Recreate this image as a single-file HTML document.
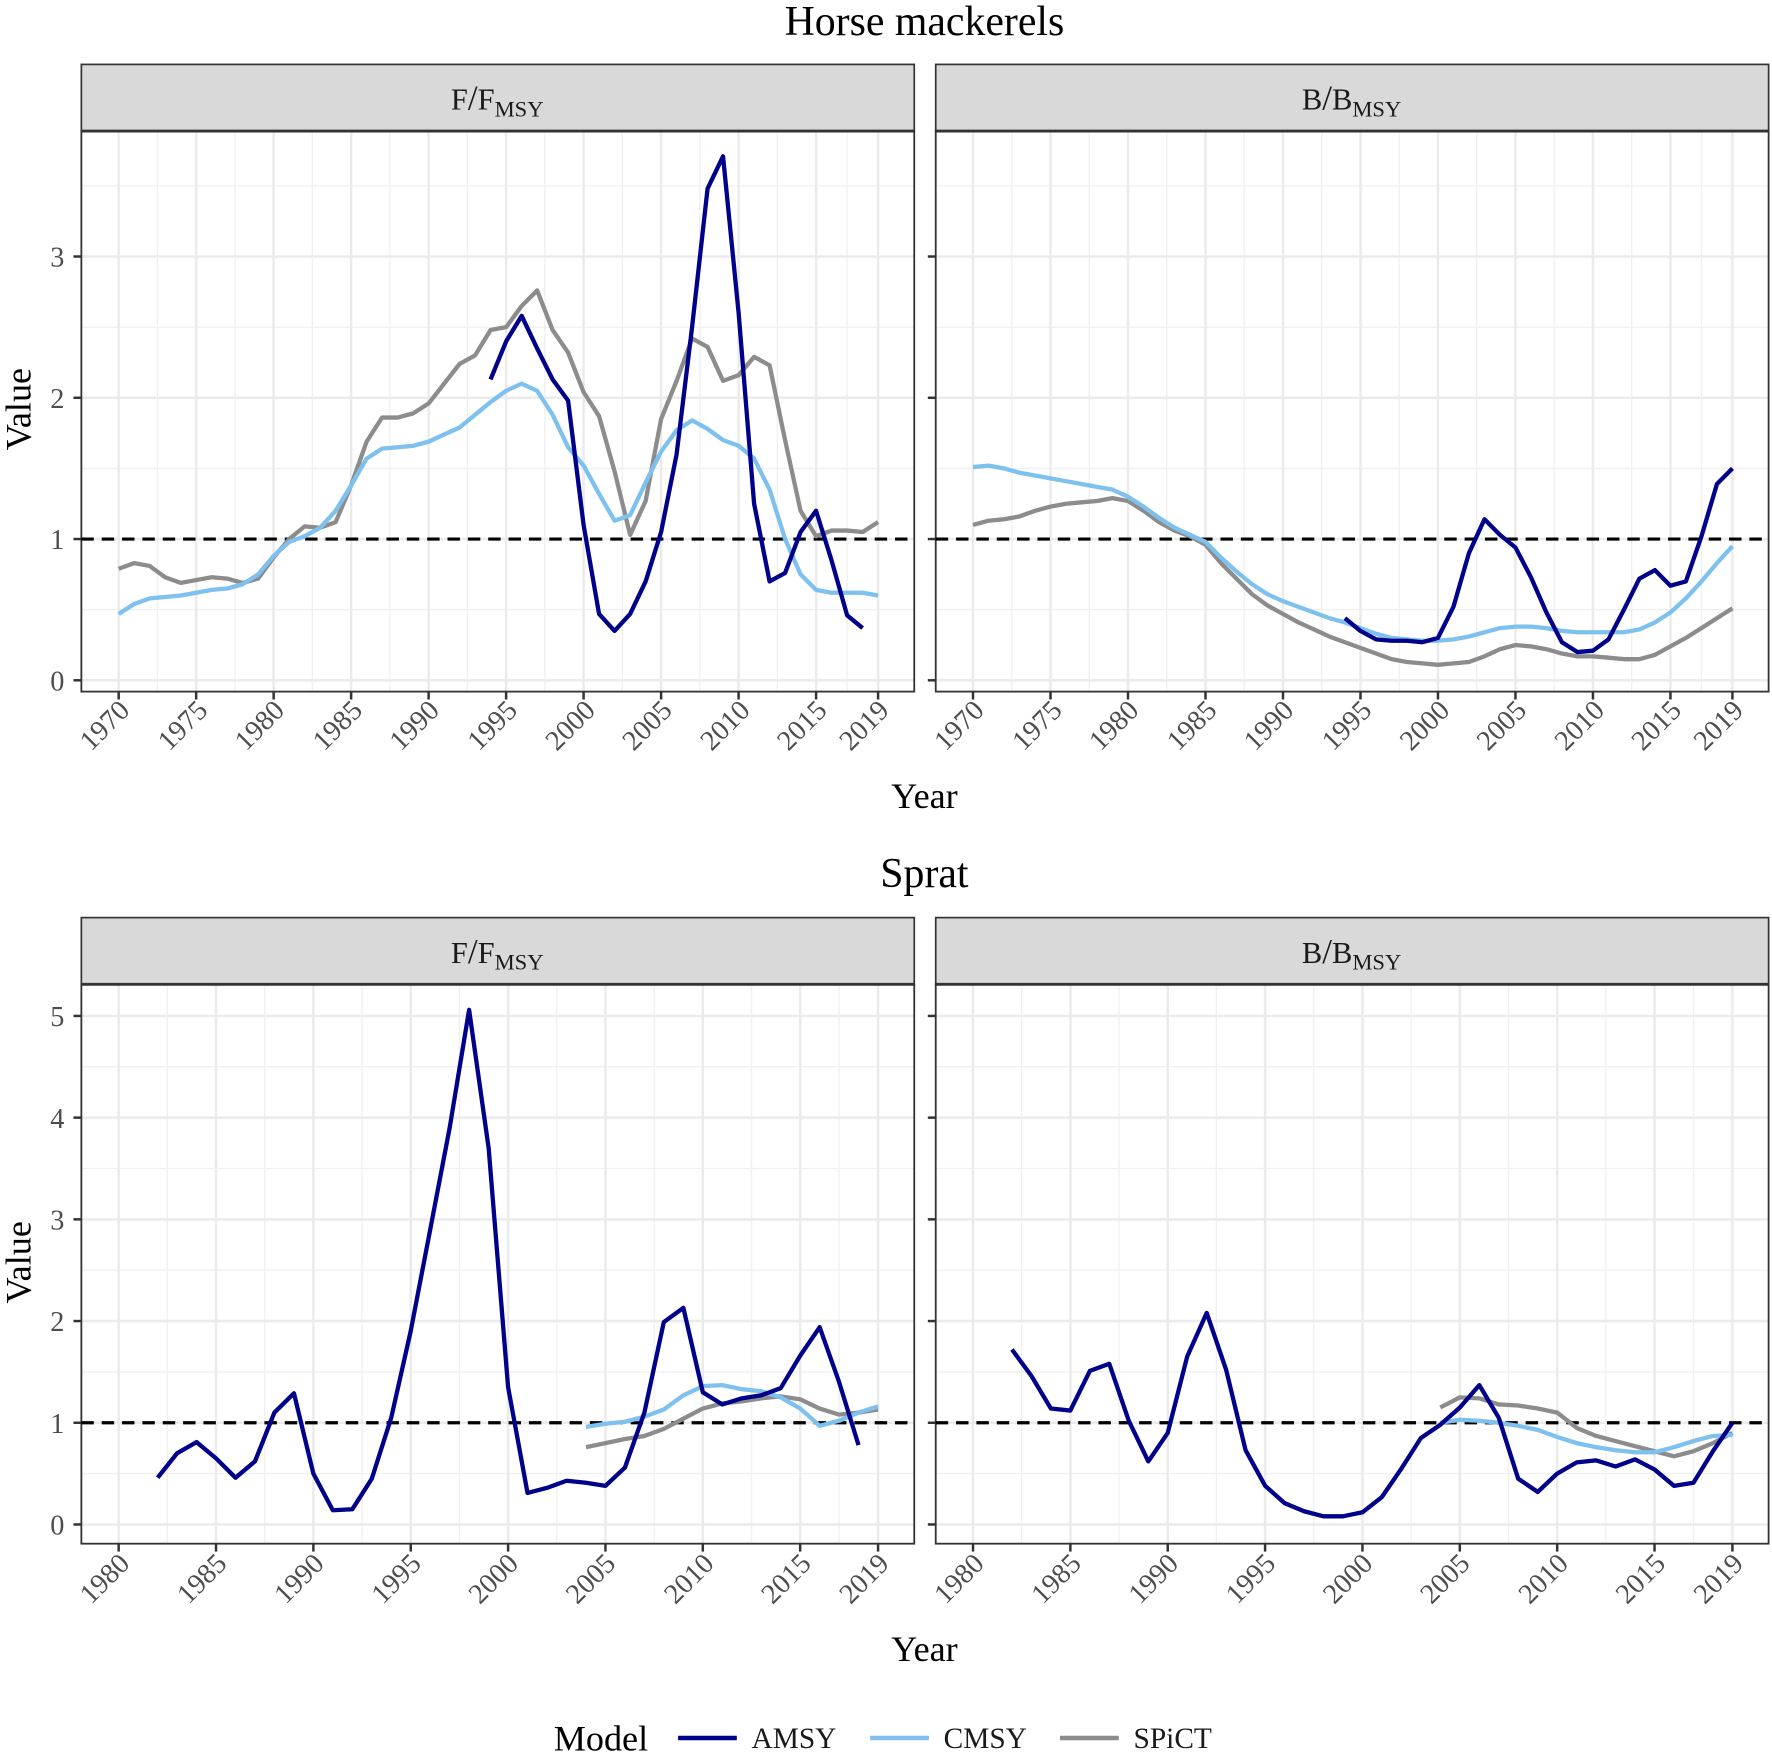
<!DOCTYPE html>
<html><head><meta charset="utf-8">
<style>
html,body{margin:0;padding:0;background:#fff;}
svg{display:block;font-family:"Liberation Serif",serif;}
.tk{font-size:25px;fill:#4d4d4d;}
.ax{font-size:32px;fill:#000;}
.tt{font-size:37px;fill:#000;}
.st{font-size:27px;fill:#1a1a1a;}
.sub{font-size:20px;}
</style></head><body>
<svg id="s" width="1772" height="1755" viewBox="0 0 1568 1553" preserveAspectRatio="none" xmlns="http://www.w3.org/2000/svg">
<rect width="1568" height="1553" fill="#fff"/>
<g id="grid"></g>
<g id="series"></g>

<text class="tt" x="818" y="31" text-anchor="middle">Horse mackerels</text>
<text class="tt" x="818" y="785" text-anchor="middle">Sprat</text>

<text class="st" x="440" y="97" text-anchor="middle">F<tspan font-size="31">/</tspan>F<tspan class="sub" dy="6">MSY</tspan></text>
<text class="st" x="1196" y="97" text-anchor="middle">B<tspan font-size="31">/</tspan>B<tspan class="sub" dy="6">MSY</tspan></text>
<text class="st" x="440" y="852" text-anchor="middle">F<tspan font-size="31">/</tspan>F<tspan class="sub" dy="6">MSY</tspan></text>
<text class="st" x="1196" y="852" text-anchor="middle">B<tspan font-size="31">/</tspan>B<tspan class="sub" dy="6">MSY</tspan></text>

<text class="ax" transform="translate(27,362) rotate(-90)" text-anchor="middle">Value</text>
<text class="ax" transform="translate(27,1117) rotate(-90)" text-anchor="middle">Value</text>
<text class="ax" x="818" y="715" text-anchor="middle">Year</text>
<text class="ax" x="818" y="1470" text-anchor="middle">Year</text>

<g class="tk" text-anchor="end">
<text x="57" y="611">0</text><text x="57" y="486">1</text><text x="57" y="361">2</text><text x="57" y="236">3</text>
<text x="57" y="1358">0</text><text x="57" y="1268">1</text><text x="57" y="1178">2</text><text x="57" y="1088">3</text><text x="57" y="998">4</text><text x="57" y="908">5</text>
</g>

<g class="tk" text-anchor="end">
<text transform="translate(116,630) rotate(-45)">1970</text>
<text transform="translate(185,630) rotate(-45)">1975</text>
<text transform="translate(253,630) rotate(-45)">1980</text>
<text transform="translate(322,630) rotate(-45)">1985</text>
<text transform="translate(390,630) rotate(-45)">1990</text>
<text transform="translate(459,630) rotate(-45)">1995</text>
<text transform="translate(528,630) rotate(-45)">2000</text>
<text transform="translate(596,630) rotate(-45)">2005</text>
<text transform="translate(665,630) rotate(-45)">2010</text>
<text transform="translate(733,630) rotate(-45)">2015</text>
<text transform="translate(788,630) rotate(-45)">2019</text>

<text transform="translate(872,630) rotate(-45)">1970</text>
<text transform="translate(941,630) rotate(-45)">1975</text>
<text transform="translate(1009,630) rotate(-45)">1980</text>
<text transform="translate(1078,630) rotate(-45)">1985</text>
<text transform="translate(1146,630) rotate(-45)">1990</text>
<text transform="translate(1215,630) rotate(-45)">1995</text>
<text transform="translate(1284,630) rotate(-45)">2000</text>
<text transform="translate(1352,630) rotate(-45)">2005</text>
<text transform="translate(1421,630) rotate(-45)">2010</text>
<text transform="translate(1489,630) rotate(-45)">2015</text>
<text transform="translate(1544,630) rotate(-45)">2019</text>

<text transform="translate(116,1385) rotate(-45)">1980</text>
<text transform="translate(202,1385) rotate(-45)">1985</text>
<text transform="translate(288,1385) rotate(-45)">1990</text>
<text transform="translate(374,1385) rotate(-45)">1995</text>
<text transform="translate(460,1385) rotate(-45)">2000</text>
<text transform="translate(546,1385) rotate(-45)">2005</text>
<text transform="translate(633,1385) rotate(-45)">2010</text>
<text transform="translate(719,1385) rotate(-45)">2015</text>
<text transform="translate(788,1385) rotate(-45)">2019</text>

<text transform="translate(872,1385) rotate(-45)">1980</text>
<text transform="translate(958,1385) rotate(-45)">1985</text>
<text transform="translate(1044,1385) rotate(-45)">1990</text>
<text transform="translate(1130,1385) rotate(-45)">1995</text>
<text transform="translate(1216,1385) rotate(-45)">2000</text>
<text transform="translate(1302,1385) rotate(-45)">2005</text>
<text transform="translate(1389,1385) rotate(-45)">2010</text>
<text transform="translate(1475,1385) rotate(-45)">2015</text>
<text transform="translate(1544,1385) rotate(-45)">2019</text>
</g>

<text class="ax" x="490" y="1549">Model</text>
<line x1="600" y1="1538" x2="652" y2="1538" stroke="#00008b" stroke-width="4"/>
<text x="665" y="1547" style="fill:#1a1a1a;font-size:26px">AMSY</text>
<line x1="770" y1="1538" x2="822" y2="1538" stroke="#7ec0ee" stroke-width="4"/>
<text x="835" y="1547" style="fill:#1a1a1a;font-size:26px">CMSY</text>
<line x1="938" y1="1538" x2="990" y2="1538" stroke="#8c8c8c" stroke-width="4"/>
<text x="1003" y="1547" style="fill:#1a1a1a;font-size:26px">SPiCT</text>
</svg>
<script>
var NS="http://www.w3.org/2000/svg";
function el(p,n,a){var e=document.createElementNS(NS,n);for(var k in a)e.setAttribute(k,a[k]);p.appendChild(e);return e;}
var G=document.getElementById('grid'),S=document.getElementById('series');
var panels=[
 {x0:72,x1:809,sy:57,y0:116,y1:612,ystart:1970,xa:105,xs:13.714,ya:602,ys:125,ymax:3,breaks:[1970,1975,1980,1985,1990,1995,2000,2005,2010,2015,2019]},
 {x0:828,x1:1565,sy:57,y0:116,y1:612,ystart:1970,xa:861,xs:13.714,ya:602,ys:125,ymax:3,breaks:[1970,1975,1980,1985,1990,1995,2000,2005,2010,2015,2019]},
 {x0:72,x1:809,sy:812,y0:871,y1:1366,ystart:1980,xa:105,xs:17.23,ya:1349,ys:90,ymax:5,breaks:[1980,1985,1990,1995,2000,2005,2010,2015,2019]},
 {x0:828,x1:1565,sy:812,y0:871,y1:1366,ystart:1980,xa:861,xs:17.23,ya:1349,ys:90,ymax:5,breaks:[1980,1985,1990,1995,2000,2005,2010,2015,2019]}
];
panels.forEach(function(p){
 el(G,'rect',{x:p.x0,y:p.sy,width:p.x1-p.x0,height:p.y0-p.sy,fill:'#d9d9d9',stroke:'#333','stroke-width':1.5});
 for(var i=0;i<p.breaks.length-1;i++){var m=(p.breaks[i]+p.breaks[i+1])/2;var x=p.xa+(m-p.ystart)*p.xs;el(G,'line',{x1:x,x2:x,y1:p.y0,y2:p.y1,stroke:'#f0f0f0','stroke-width':1.2});}
 for(var v=0.5;v<=p.ymax+0.5;v+=1){var y=p.ya-v*p.ys;if(y>p.y0)el(G,'line',{x1:p.x0,x2:p.x1,y1:y,y2:y,stroke:'#f0f0f0','stroke-width':1.2});}
 p.breaks.forEach(function(b){var x=p.xa+(b-p.ystart)*p.xs;el(G,'line',{x1:x,x2:x,y1:p.y0,y2:p.y1,stroke:'#ebebeb','stroke-width':2.2});
  el(G,'line',{x1:x,x2:x,y1:p.y1,y2:p.y1+7,stroke:'#333','stroke-width':2.2});});
 for(var v=0;v<=p.ymax;v++){var y=p.ya-v*p.ys;el(G,'line',{x1:p.x0,x2:p.x1,y1:y,y2:y,stroke:'#ebebeb','stroke-width':2.2});
  el(G,'line',{x1:p.x0-7,x2:p.x0,y1:y,y2:y,stroke:'#333','stroke-width':2.2});}
 el(G,'rect',{x:p.x0,y:p.y0,width:p.x1-p.x0,height:p.y1-p.y0,fill:'none',stroke:'#333','stroke-width':1.6});
 el(G,'line',{x1:p.x0,x2:p.x1,y1:p.y0,y2:p.y0,stroke:'#333','stroke-width':2.5});
 var y1=p.ya-p.ys;el(S,'line',{x1:p.x0,x2:p.x1,y1:y1,y2:y1,stroke:'#000','stroke-width':2.8,'stroke-dasharray':'11,7'});
});
function line(pi,start,vals,col){var p=panels[pi];var pts=vals.map(function(v,i){return (p.xa+(start+i-p.ystart)*p.xs).toFixed(1)+','+(p.ya-v*p.ys).toFixed(1);}).join(' ');
 el(S,'polyline',{points:pts,fill:'none',stroke:col,'stroke-width':3.8,'stroke-linejoin':'round'});}
var A='#00008b',C='#7ec0ee',P='#8c8c8c';
line(0,1970,[.79,.83,.81,.73,.69,.71,.73,.72,.69,.72,.87,1.0,1.09,1.08,1.12,1.38,1.69,1.86,1.86,1.89,1.96,2.1,2.24,2.3,2.48,2.5,2.65,2.76,2.48,2.32,2.04,1.87,1.48,1.03,1.27,1.85,2.12,2.42,2.36,2.12,2.16,2.29,2.23,1.7,1.2,1.02,1.06,1.06,1.05,1.12],P);
line(0,1970,[.47,.54,.58,.59,.6,.62,.64,.65,.68,.75,.88,.98,1.02,1.08,1.2,1.38,1.57,1.64,1.65,1.66,1.69,1.74,1.79,1.88,1.97,2.05,2.1,2.05,1.88,1.65,1.52,1.32,1.13,1.17,1.4,1.62,1.77,1.84,1.78,1.7,1.66,1.57,1.35,1.0,.75,.64,.62,.62,.62,.6],C);
line(0,1994,[2.13,2.4,2.58,2.35,2.13,1.98,1.1,.47,.35,.47,.7,1.05,1.6,2.5,3.48,3.71,2.6,1.25,.7,.76,1.05,1.2,.85,.46,.37],A);
line(1,1970,[1.1,1.13,1.14,1.16,1.2,1.23,1.25,1.26,1.27,1.29,1.27,1.2,1.12,1.06,1.02,.96,.83,.72,.61,.53,.47,.41,.36,.31,.27,.23,.19,.15,.13,.12,.11,.12,.13,.17,.22,.25,.24,.22,.19,.17,.17,.16,.15,.15,.18,.24,.3,.37,.44,.51],P);
line(1,1970,[1.51,1.52,1.5,1.47,1.45,1.43,1.41,1.39,1.37,1.35,1.3,1.23,1.15,1.08,1.03,.98,.87,.77,.68,.61,.56,.52,.48,.44,.41,.37,.33,.3,.29,.28,.28,.29,.31,.34,.37,.38,.38,.37,.35,.34,.34,.34,.34,.36,.41,.48,.58,.7,.83,.95],C);
line(1,1994,[.44,.35,.29,.28,.28,.27,.3,.52,.9,1.14,1.03,.94,.73,.48,.27,.2,.21,.29,.5,.72,.78,.67,.7,1.02,1.39,1.5],A);
line(2,2004,[.76,.8,.84,.87,.94,1.04,1.14,1.19,1.21,1.24,1.26,1.23,1.14,1.08,1.1,1.13],P);
line(2,2004,[.96,.99,1.01,1.06,1.13,1.27,1.36,1.37,1.33,1.31,1.25,1.14,.97,1.02,1.1,1.16],C);
line(2,1982,[.46,.7,.81,.65,.46,.62,1.1,1.29,.5,.14,.15,.45,1.05,1.9,2.9,3.9,5.06,3.7,1.35,.31,.36,.43,.41,.38,.56,1.1,1.99,2.13,1.3,1.18,1.24,1.27,1.34,1.66,1.94,1.4,.78],A);
line(3,2004,[1.15,1.25,1.24,1.18,1.17,1.14,1.1,.95,.87,.82,.77,.72,.67,.72,.8,.9],P);
line(3,2004,[1.0,1.03,1.02,1.0,.97,.93,.86,.8,.76,.73,.71,.71,.76,.82,.87,.88],C);
line(3,1982,[1.72,1.46,1.14,1.12,1.51,1.58,1.02,.62,.9,1.65,2.08,1.52,.73,.38,.21,.13,.08,.08,.12,.27,.55,.85,.98,1.15,1.37,1.05,.45,.32,.5,.61,.63,.57,.64,.54,.38,.41,.72,1.0],A);
</script>
</body></html>
